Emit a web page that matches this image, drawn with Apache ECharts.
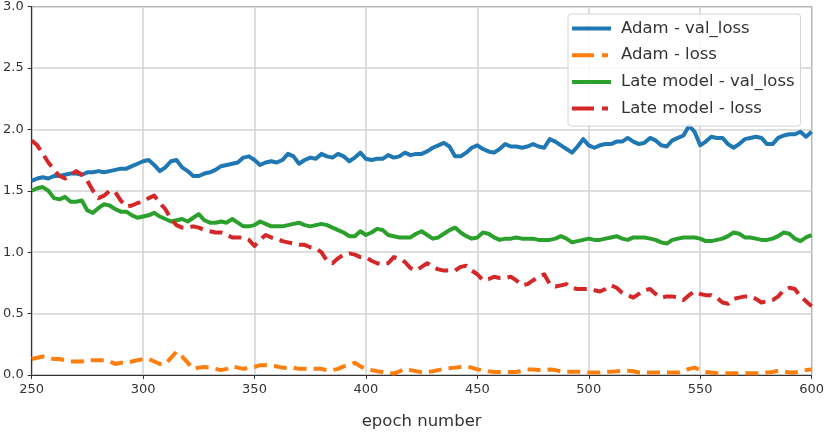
<!DOCTYPE html>
<html>
<head>
<meta charset="utf-8">
<script src="https://cdn.jsdelivr.net/npm/echarts@6/dist/echarts.min.js"></script>
<style>
html,body{margin:0;padding:0;background:#fff;}
#chart{width:827px;height:435px;}
</style>
</head>
<body>
<div id="chart"></div>
<script>
const epochs = [250,252.5,255,257.5,260,262.5,265,267.5,270,272.5,275,277.5,280,282.5,285,287.5,290,292.5,295,297.5,
300,302.5,305,307.5,310,312.5,315,317.5,320,322.5,325,327.5,330,332.5,335,337.5,340,342.5,345,347.5,
350,352.5,355,357.5,360,362.5,365,367.5,370,372.5,375,377.5,380,382.5,385,387.5,390,392.5,395,397.5,
400,402.5,405,407.5,410,412.5,415,417.5,420,422.5,425,427.5,430,432.5,435,437.5,440,442.5,445,447.5,
450,452.5,455,457.5,460,462.5,465,467.5,470,472.5,475,477.5,480,482.5,485,487.5,490,492.5,495,497.5,
500,502.5,505,507.5,510,512.5,515,517.5,520,522.5,525,527.5,530,532.5,535,537.5,540,542.5,545,547.5,
550,552.5,555,557.5,560,562.5,565,567.5,570,572.5,575,577.5,580,582.5,585,587.5,590,592.5,595,597.5,600];

const adamValLoss = [1.58,1.60,1.61,1.60,1.62,1.62,1.63,1.64,1.64,1.63,1.65,1.65,1.66,1.65,1.66,1.67,1.68,1.68,1.70,1.72,
1.74,1.75,1.71,1.66,1.69,1.74,1.75,1.69,1.66,1.62,1.62,1.64,1.65,1.67,1.70,1.71,1.72,1.73,1.77,1.78,
1.75,1.71,1.73,1.74,1.73,1.75,1.80,1.78,1.72,1.75,1.77,1.76,1.80,1.78,1.77,1.80,1.78,1.74,1.77,1.81,
1.76,1.75,1.76,1.76,1.79,1.77,1.78,1.81,1.79,1.80,1.80,1.82,1.85,1.87,1.89,1.86,1.78,1.78,1.81,1.85,
1.87,1.84,1.82,1.81,1.84,1.88,1.86,1.86,1.85,1.86,1.88,1.86,1.85,1.92,1.90,1.87,1.84,1.81,1.86,1.92,
1.87,1.85,1.87,1.88,1.88,1.90,1.90,1.93,1.90,1.88,1.89,1.93,1.91,1.87,1.86,1.91,1.93,1.95,2.03,1.98,
1.87,1.90,1.94,1.93,1.93,1.88,1.85,1.88,1.92,1.93,1.94,1.93,1.88,1.88,1.93,1.95,1.96,1.96,1.98,1.94,1.98];

const adamLoss = [0.13,0.14,0.15,0.14,0.13,0.13,0.12,0.11,0.11,0.11,0.12,0.12,0.12,0.12,0.11,0.09,0.10,0.10,0.11,0.12,
0.13,0.13,0.11,0.09,0.09,0.14,0.19,0.15,0.10,0.05,0.06,0.065,0.06,0.05,0.04,0.05,0.07,0.06,0.05,0.06,
0.065,0.08,0.08,0.075,0.07,0.06,0.06,0.06,0.05,0.05,0.05,0.05,0.05,0.04,0.04,0.05,0.07,0.08,0.10,0.07,
0.05,0.04,0.03,0.025,0.02,0.012,0.03,0.05,0.04,0.03,0.025,0.025,0.03,0.04,0.05,0.055,0.06,0.065,0.07,0.06,
0.045,0.04,0.03,0.025,0.025,0.025,0.025,0.025,0.035,0.045,0.045,0.04,0.04,0.045,0.04,0.03,0.027,0.027,0.027,0.025,
0.02,0.02,0.02,0.025,0.027,0.03,0.035,0.035,0.03,0.02,0.02,0.02,0.02,0.02,0.02,0.02,0.02,0.03,0.05,0.06,
0.04,0.025,0.02,0.015,0.015,0.015,0.015,0.015,0.015,0.015,0.015,0.015,0.02,0.025,0.035,0.03,0.02,0.02,0.03,0.04,0.045];

const lateValLoss = [1.50,1.52,1.53,1.50,1.44,1.43,1.45,1.41,1.41,1.42,1.34,1.32,1.36,1.39,1.38,1.35,1.33,1.33,1.30,1.28,
1.29,1.30,1.32,1.29,1.27,1.25,1.26,1.27,1.25,1.28,1.31,1.26,1.24,1.24,1.25,1.24,1.27,1.24,1.21,1.21,
1.22,1.25,1.23,1.21,1.21,1.21,1.22,1.23,1.24,1.22,1.21,1.22,1.23,1.22,1.20,1.18,1.16,1.13,1.13,1.17,
1.14,1.16,1.19,1.18,1.14,1.13,1.12,1.12,1.12,1.15,1.17,1.14,1.11,1.12,1.15,1.18,1.20,1.16,1.13,1.11,
1.12,1.16,1.15,1.12,1.10,1.11,1.11,1.12,1.11,1.11,1.11,1.10,1.10,1.10,1.11,1.13,1.11,1.08,1.09,1.10,
1.11,1.10,1.10,1.11,1.12,1.13,1.11,1.10,1.12,1.12,1.12,1.11,1.10,1.08,1.07,1.10,1.11,1.12,1.12,1.12,
1.11,1.09,1.09,1.10,1.11,1.13,1.16,1.15,1.12,1.12,1.11,1.10,1.10,1.11,1.13,1.16,1.15,1.11,1.09,1.12,1.14];

const lateLoss = [1.91,1.87,1.80,1.73,1.67,1.62,1.60,1.63,1.66,1.63,1.58,1.50,1.44,1.46,1.50,1.49,1.42,1.37,1.38,1.40,
1.41,1.44,1.46,1.40,1.35,1.27,1.22,1.20,1.20,1.21,1.20,1.18,1.17,1.16,1.16,1.14,1.12,1.12,1.12,1.10,
1.05,1.10,1.14,1.12,1.11,1.09,1.08,1.07,1.06,1.06,1.04,1.03,1.00,0.93,0.91,0.95,0.98,0.99,0.98,0.96,
0.96,0.93,0.91,0.90,0.91,0.96,0.95,0.92,0.87,0.85,0.88,0.91,0.88,0.86,0.85,0.85,0.85,0.88,0.89,0.85,
0.82,0.77,0.78,0.80,0.79,0.79,0.80,0.77,0.73,0.74,0.77,0.80,0.82,0.74,0.72,0.73,0.74,0.71,0.70,0.70,
0.70,0.69,0.68,0.70,0.73,0.71,0.67,0.65,0.63,0.66,0.69,0.70,0.66,0.63,0.64,0.64,0.63,0.61,0.65,0.68,
0.66,0.65,0.65,0.63,0.59,0.58,0.62,0.63,0.64,0.64,0.62,0.59,0.60,0.61,0.64,0.69,0.71,0.70,0.64,0.60,0.56];

const seriesNames = ['Adam - val_loss','Adam - loss','Late model - val_loss','Late model - loss'];
const xTicks = {min:250, max:600, interval:50};
const yTicks = {min:0, max:3, interval:0.5};

function pairs(vals){ return epochs.map((e,i)=>[e, vals[i]]); }

const chart = echarts.init(document.getElementById('chart'), null, {renderer:'canvas'});
const FONT = 'DejaVu Sans';
const dash = [13,7];
// legend handle icons (box 39 x 17, drawn bar 4px tall in the middle)
const solidIcon = 'path://M0 0M39 17M0 6.5H39V10.5H0Z';
const dashIcon = 'path://M0 0M39 17M0 6.5H22V10.5H0Z M30 6.5H36V10.5H30Z';
function mk(name, vals, color, dashed){
  return {
    name, type:'line', data:pairs(vals), symbol:'none', showSymbol:false, smooth:false,
    lineStyle:{color, width:4, type: dashed ? dash : 'solid', cap:'butt', join:'round'},
    itemStyle:{color},
    animation:false, silent:true
  };
}
chart.setOption({
  animation:false,
  backgroundColor:'#ffffff',
  textStyle:{fontFamily:FONT},
  grid:{left:30.7, right:11.5, top:5, bottom:46.7, show:true, borderColor:'#555', borderWidth:1, backgroundColor:'transparent'},
  legend:{
    orient:'vertical', left:568, top:14,
    itemWidth:39, itemHeight:17, itemGap:9.7,
    padding:[6,6,9,4],
    backgroundColor:'rgba(255,255,255,0.85)', borderColor:'#d4d4d4', borderWidth:1, borderRadius:3,
    textStyle:{fontFamily:FONT, fontSize:16.5, lineHeight:17, color:'#333', padding:[0,0,0,5]},
    data:[
      {name:seriesNames[0], icon:solidIcon},
      {name:seriesNames[1], icon:dashIcon},
      {name:seriesNames[2], icon:solidIcon},
      {name:seriesNames[3], icon:dashIcon}
    ],
    selectedMode:false
  },
  xAxis:{
    type:'value', min:xTicks.min, max:xTicks.max, interval:xTicks.interval,
    name:'epoch number', nameLocation:'middle', nameGap:38,
    nameTextStyle:{fontFamily:FONT, fontSize:16.5, color:'#333'},
    axisLine:{show:true, onZero:false, lineStyle:{color:'#333', width:1.2}},
    axisTick:{show:true, inside:false, length:4, lineStyle:{color:'#333'}},
    axisLabel:{fontFamily:FONT, fontSize:13, color:'#333', margin:8},
    splitLine:{show:true, lineStyle:{color:'#d3d3d3', width:1.5}}
  },
  yAxis:{
    type:'value', min:yTicks.min, max:yTicks.max, interval:yTicks.interval,
    axisLine:{show:true, onZero:false, lineStyle:{color:'#333', width:1.2}},
    axisTick:{show:true, inside:false, length:4, lineStyle:{color:'#333'}},
    axisLabel:{fontFamily:FONT, fontSize:13, color:'#333', margin:8, formatter:v=>v.toFixed(1)},
    splitLine:{show:true, lineStyle:{color:'#d3d3d3', width:1.5}}
  },
  series:[
    mk(seriesNames[0], adamValLoss, '#1f77b4', false),
    mk(seriesNames[1], adamLoss, '#ff7f0e', true),
    mk(seriesNames[2], lateValLoss, '#2ca02c', false),
    mk(seriesNames[3], lateLoss, '#d62728', true)
  ]
});
</script>
</body>
</html>
